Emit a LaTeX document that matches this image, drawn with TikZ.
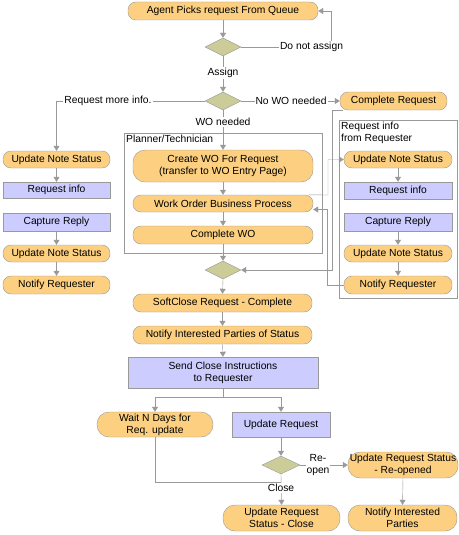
\documentclass[tikz,border=0pt]{standalone}
\usepackage{fontspec}
\setmainfont{Liberation Sans}
\usetikzlibrary{shapes.geometric,arrows.meta}
\definecolor{pillfill}{RGB}{252,208,128}
\definecolor{boxfill}{RGB}{204,204,255}
\definecolor{diafill}{RGB}{204,204,153}
\definecolor{linegray}{RGB}{153,153,153}
\begin{document}
\begin{tikzpicture}[x=1pt,y=-1pt, font=\fontsize{10.3}{12}\selectfont,
 base/.style={draw=linegray, inner sep=0pt, align=center},
 pill/.style={base, fill=pillfill, rounded corners=8pt},
 tallpill/.style={base, fill=pillfill, rounded corners=12pt},
 box/.style={base, fill=boxfill},
 dia/.style={base, diamond, fill=diafill, minimum width=36pt, minimum height=18pt},
 lbl/.style={fill=white, inner sep=1pt, align=center},
 conn/.style={draw=linegray, -{Triangle[width=6pt,length=5pt]}},
 plain/.style={draw=linegray},
 group/.style={draw=linegray}
]
\useasboundingbox (0,0) rectangle (458,535);

% group boxes
\draw[group] (124,133) rectangle (322,253);
\node[anchor=north west, inner sep=1pt] (gplan) at (125,134) {Planner/Technician};
\draw[group] (339,120) rectangle (457,298);
\node[anchor=north west, inner sep=1pt, align=left] (greq) at (340,121) {Request info\\from Requester};

% main column
\node[pill, minimum width=190pt, minimum height=18pt] (agent) at (223,11) {Agent Picks request From Queue};
\node[dia] (d1) at (223,47) {};
\node[dia] (d2) at (223,101) {};
\node[pill, minimum width=107pt, minimum height=18pt] (creq) at (393.5,101) {Complete Request};
\node[tallpill, minimum width=180pt, minimum height=32pt] (cwo1) at (223,166) {Create WO For Request\\(transfer to WO Entry Page)};
\node[pill, minimum width=180pt, minimum height=17pt] (wobp) at (223,203.5) {Work Order Business Process};
\node[pill, minimum width=180pt, minimum height=18pt] (cwo) at (223,235) {Complete WO};
\node[dia] (d3) at (223,270) {};
\node[pill, minimum width=179pt, minimum height=18pt] (soft) at (222.5,303) {SoftClose Request - Complete};
\node[pill, minimum width=179pt, minimum height=18pt] (notif) at (222.5,335) {Notify Interested Parties of Status};
\node[box, minimum width=190pt, minimum height=31pt] (send) at (223,372.5) {Send Close Instructions\\to Requester};
\node[tallpill, minimum width=116pt, minimum height=25pt] (wait) at (155,424.5) {Wait N Days for\\Req. update};
\node[box, minimum width=98pt, minimum height=25pt] (upd) at (281,424.5) {Update Request};
\node[dia, minimum width=38pt] (d4) at (281,465) {};
\node[tallpill, minimum width=110pt, minimum height=26pt] (reop) at (403,465) {Update Request Status\\- Re-opened};
\node[tallpill, minimum width=109pt, minimum height=26pt] (nip) at (402.5,518) {Notify Interested\\Parties};
\node[tallpill, minimum width=117pt, minimum height=26pt] (urc) at (281.5,518) {Update Request\\Status - Close};

% left column
\node[pill, minimum width=107pt, minimum height=17pt] (L1) at (56.5,159.5) {Update Note Status};
\node[box, minimum width=107pt, minimum height=16pt] (L2) at (56.5,190) {Request info};
\node[box, minimum width=107pt, minimum height=18pt] (L3) at (56.5,222) {Capture Reply};
\node[pill, minimum width=107pt, minimum height=17pt] (L4) at (56.5,253.5) {Update Note Status};
\node[pill, minimum width=107pt, minimum height=18pt] (L5) at (56.5,285) {Notify Requester};

% right column
\node[pill, minimum width=108pt, minimum height=17pt] (R1) at (398,159.5) {Update Note Status};
\node[box, minimum width=108pt, minimum height=17pt] (R2) at (398,190.5) {Request info};
\node[box, minimum width=108pt, minimum height=18pt] (R3) at (398,222) {Capture Reply};
\node[pill, minimum width=108pt, minimum height=17pt] (R4) at (398,253.5) {Update Note Status};
\node[pill, minimum width=108pt, minimum height=18pt] (R5) at (398,285) {Notify Requester};

% connectors
\draw[conn] (agent.south) -- (d1.north);
\draw[conn] (d1.east) -- (331,47) |- (agent.east);
\node[lbl] (lnot) at (311.5,47) {Do not assign};
\draw[conn] (d1.south) -- (d2.north);
\node[lbl] (lassign) at (223,73) {Assign};
\draw[conn] (d2.west) -| (L1.north);
\node[lbl] (lmore) at (108,101) {Request more info.};
\draw[conn] (d2.east) -- (creq.west);
\node[lbl] (lnowo) at (291,101) {No WO needed};
\draw[conn] (d2.south) -- (cwo1.north);
\node[lbl] (lwo) at (223,122) {WO needed};
\draw[conn] (cwo1.south) -- (wobp.north);
\draw[conn] (wobp.south) -- (cwo.north);
\draw[conn] (cwo.south) -- (d3.north);
\draw[conn] (d3.south) -- (soft.north);
\draw[conn] (soft.south) -- (notif.north);
\draw[conn] (notif.south) -- (send.north);
\draw[plain] (send.south) -- (223,397);
\draw[conn] (223,397) -| (wait.north);
\draw[conn] (223,397) -| (upd.north);
\draw[conn] (upd.south) -- (d4.north);
\draw[conn] (d4.east) -- (reop.west);
\node[lbl, inner sep=0.5pt] (lre) at (318,465) {Re-\\open};
\draw[conn] (reop.south) -- (nip.north);
\draw[conn] (d4.south) -- (urc.north);
\draw[plain] (wait.south) |- (281,482);
\node[lbl] (lclose) at (281,488) {Close};

\draw[conn] (L1.south) -- (L2.north);
\draw[conn] (L3.south) -- (L4.north);
\draw[conn] (L4.south) -- (L5.north);
\draw[conn] (R1.south) -- (R2.north);
\draw[conn] (R3.south) -- (R4.north);
\draw[conn] (R4.south) -- (R5.north);

\draw[conn] ([xshift=3pt]creq.south west) -- ++(-11,0) |- (d3.east);
\draw[conn] ([xshift=-4pt]wobp.north east) -- (328,195) |- (R1.west);
\draw[conn] (R5.west) -- (327,285) |- ([yshift=-6pt]wobp.east);
\end{tikzpicture}
\end{document}
